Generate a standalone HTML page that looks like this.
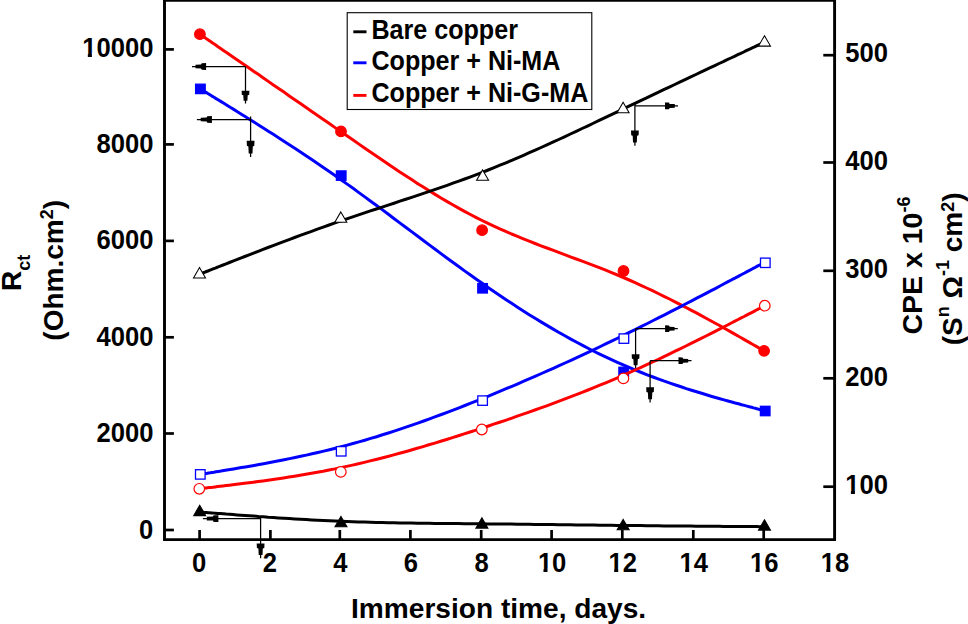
<!DOCTYPE html><html><head><meta charset="utf-8"><title>Chart</title><style>
html,body{margin:0;padding:0;background:#fff;}
svg{display:block;font-family:"Liberation Sans",sans-serif;font-weight:bold;}
</style></head><body>
<svg width="968" height="624" viewBox="0 0 968 624">
<rect x="0" y="0" width="968" height="624" fill="#fff"/>
<path d="M199.6,512.0 L199.6,512.0 L199.6,512.0 L199.6,512.0 L199.7,512.0 L199.8,512.0 L200.0,512.0 L200.2,512.0 L200.5,512.1 L200.8,512.1 L201.3,512.1 L201.9,512.2 L202.5,512.2 L203.4,512.3 L204.3,512.4 L205.4,512.4 L206.6,512.5 L208.0,512.7 L209.6,512.8 L211.3,512.9 L213.3,513.1 L215.4,513.2 L217.8,513.4 L220.4,513.6 L223.2,513.8 L226.3,514.1 L229.6,514.3 L233.1,514.6 L236.9,514.9 L240.8,515.2 L245.0,515.5 L249.3,515.8 L253.8,516.1 L258.5,516.5 L263.3,516.8 L268.2,517.2 L273.3,517.5 L278.5,517.9 L283.9,518.2 L289.3,518.5 L294.8,518.9 L300.4,519.2 L306.1,519.5 L311.8,519.9 L317.6,520.2 L323.4,520.5 L329.3,520.7 L335.2,521.0 L341.0,521.3 L346.9,521.5 L352.8,521.7 L358.7,521.9 L364.5,522.1 L370.4,522.3 L376.3,522.4 L382.2,522.6 L388.0,522.7 L393.9,522.8 L399.8,522.9 L405.6,523.0 L411.5,523.1 L417.4,523.2 L423.2,523.3 L429.1,523.3 L435.0,523.4 L440.8,523.5 L446.7,523.5 L452.6,523.6 L458.4,523.6 L464.3,523.7 L470.2,523.7 L476.1,523.8 L481.9,523.8 L487.8,523.9 L493.7,523.9 L499.6,524.0 L505.4,524.1 L511.3,524.1 L517.2,524.2 L523.1,524.3 L529.0,524.3 L534.9,524.4 L540.7,524.5 L546.6,524.5 L552.5,524.6 L558.4,524.7 L564.3,524.8 L570.2,524.8 L576.1,524.9 L582.0,525.0 L587.8,525.0 L593.7,525.1 L599.6,525.2 L605.5,525.2 L611.4,525.3 L617.3,525.4 L623.2,525.4 L629.1,525.5 L634.9,525.6 L640.8,525.6 L646.6,525.7 L652.4,525.8 L658.1,525.8 L663.8,525.9 L669.4,525.9 L674.9,526.0 L680.4,526.0 L685.7,526.1 L690.9,526.1 L696.0,526.2 L700.9,526.2 L705.8,526.2 L710.4,526.3 L714.9,526.3 L719.2,526.3 L723.4,526.4 L727.3,526.4 L731.1,526.4 L734.6,526.5 L737.9,526.5 L740.9,526.5 L743.8,526.5 L746.4,526.6 L748.7,526.6 L750.9,526.6 L752.8,526.6 L754.6,526.6 L756.1,526.6 L757.5,526.6 L758.8,526.7 L759.8,526.7 L760.8,526.7 L761.6,526.7 L762.2,526.7 L762.8,526.7 L763.3,526.7 L763.6,526.7 L763.9,526.7 L764.1,526.7 L764.3,526.7 L764.4,526.7 L764.5,526.7 L764.5,526.7 L764.5,526.7 L764.5,526.7" fill="none" stroke="#000" stroke-width="3.0" stroke-linejoin="round"/>
<path d="M199.7,505.2 L205.7,515.6 L193.7,515.6 Z" fill="#000" stroke="#000" stroke-width="1.05" stroke-linejoin="miter"/>
<path d="M341.0,516.4 L347.0,526.8 L335.0,526.8 Z" fill="#000" stroke="#000" stroke-width="1.05" stroke-linejoin="miter"/>
<path d="M481.9,517.7 L487.9,528.1 L475.9,528.1 Z" fill="#000" stroke="#000" stroke-width="1.05" stroke-linejoin="miter"/>
<path d="M623.2,519.4 L629.2,529.8 L617.2,529.8 Z" fill="#000" stroke="#000" stroke-width="1.05" stroke-linejoin="miter"/>
<path d="M764.5,519.7 L770.5,530.1 L758.5,530.1 Z" fill="#000" stroke="#000" stroke-width="1.05" stroke-linejoin="miter"/>
<path d="M200.4,88.9 L200.4,88.9 L200.4,88.9 L200.4,88.9 L200.5,89.0 L200.6,89.0 L200.8,89.1 L201.0,89.3 L201.3,89.4 L201.6,89.7 L202.1,89.9 L202.7,90.3 L203.3,90.7 L204.1,91.2 L205.1,91.8 L206.1,92.4 L207.4,93.2 L208.7,94.0 L210.3,95.0 L212.0,96.1 L214.0,97.3 L216.1,98.6 L218.5,100.0 L221.1,101.6 L223.9,103.3 L226.9,105.2 L230.2,107.3 L233.7,109.4 L237.4,111.7 L241.4,114.2 L245.5,116.7 L249.8,119.4 L254.3,122.2 L258.9,125.2 L263.7,128.2 L268.7,131.4 L273.7,134.6 L278.9,137.9 L284.3,141.4 L289.7,144.9 L295.2,148.5 L300.8,152.2 L306.4,156.0 L312.1,159.8 L317.9,163.7 L323.7,167.7 L329.6,171.7 L335.4,175.8 L341.3,179.9 L347.2,184.1 L353.1,188.3 L358.9,192.6 L364.8,196.9 L370.7,201.2 L376.6,205.5 L382.5,209.9 L388.4,214.3 L394.2,218.7 L400.1,223.1 L406.0,227.5 L411.9,231.9 L417.8,236.3 L423.7,240.7 L429.6,245.1 L435.5,249.5 L441.3,253.9 L447.2,258.2 L453.1,262.5 L459.0,266.8 L464.9,271.1 L470.8,275.3 L476.7,279.5 L482.6,283.6 L488.4,287.7 L494.3,291.8 L500.2,295.7 L506.1,299.7 L512.0,303.6 L517.9,307.4 L523.7,311.2 L529.6,314.9 L535.5,318.5 L541.4,322.1 L547.3,325.6 L553.2,329.1 L559.0,332.5 L564.9,335.8 L570.8,339.1 L576.7,342.3 L582.6,345.4 L588.5,348.5 L594.3,351.5 L600.2,354.4 L606.1,357.2 L612.0,359.9 L617.9,362.6 L623.8,365.2 L629.7,367.7 L635.5,370.2 L641.4,372.5 L647.2,374.8 L653.0,377.0 L658.7,379.1 L664.4,381.2 L670.0,383.1 L675.5,385.0 L681.0,386.8 L686.3,388.6 L691.5,390.2 L696.6,391.8 L701.6,393.3 L706.4,394.8 L711.0,396.2 L715.5,397.5 L719.9,398.7 L724.0,399.9 L728.0,401.0 L731.7,402.0 L735.2,403.0 L738.5,403.8 L741.6,404.7 L744.4,405.4 L747.0,406.1 L749.4,406.8 L751.6,407.3 L753.5,407.9 L755.3,408.3 L756.8,408.7 L758.2,409.1 L759.4,409.5 L760.5,409.7 L761.5,410.0 L762.3,410.2 L762.9,410.4 L763.5,410.5 L764.0,410.7 L764.3,410.8 L764.6,410.8 L764.8,410.9 L765.0,410.9 L765.1,411.0 L765.2,411.0 L765.2,411.0 L765.2,411.0 L765.2,411.0" fill="none" stroke="#0000ff" stroke-width="3.0" stroke-linejoin="round"/>
<rect x="195.6" y="84.2" width="9.6" height="9.4" fill="#0000ff" stroke="#0000ff" stroke-width="1.3"/>
<rect x="336.4" y="170.9" width="9.6" height="9.4" fill="#0000ff" stroke="#0000ff" stroke-width="1.3"/>
<rect x="477.8" y="283.6" width="9.6" height="9.4" fill="#0000ff" stroke="#0000ff" stroke-width="1.3"/>
<rect x="618.9" y="367.2" width="9.6" height="9.4" fill="#0000ff" stroke="#0000ff" stroke-width="1.3"/>
<rect x="760.4" y="406.3" width="9.6" height="9.4" fill="#0000ff" stroke="#0000ff" stroke-width="1.3"/>
<path d="M199.9,34.2 L199.9,34.2 L199.9,34.2 L199.9,34.2 L200.0,34.3 L200.1,34.3 L200.3,34.5 L200.5,34.6 L200.8,34.8 L201.1,35.1 L201.6,35.4 L202.2,35.8 L202.8,36.2 L203.6,36.8 L204.6,37.4 L205.6,38.2 L206.9,39.0 L208.3,40.0 L209.8,41.0 L211.6,42.2 L213.5,43.6 L215.7,45.1 L218.0,46.7 L220.6,48.5 L223.4,50.4 L226.5,52.5 L229.8,54.8 L233.3,57.2 L237.0,59.8 L241.0,62.5 L245.1,65.3 L249.4,68.3 L253.9,71.4 L258.6,74.6 L263.4,77.9 L268.3,81.4 L273.4,84.9 L278.6,88.5 L283.9,92.1 L289.3,95.9 L294.8,99.7 L300.4,103.5 L306.1,107.5 L311.8,111.4 L317.6,115.4 L323.4,119.5 L329.3,123.5 L335.1,127.6 L341.0,131.7 L346.9,135.8 L352.8,139.8 L358.6,143.9 L364.5,148.0 L370.4,152.0 L376.3,156.1 L382.2,160.1 L388.0,164.1 L393.9,168.0 L399.8,171.9 L405.7,175.8 L411.6,179.6 L417.4,183.4 L423.3,187.1 L429.2,190.8 L435.1,194.4 L441.0,198.0 L446.8,201.4 L452.7,204.8 L458.6,208.1 L464.5,211.4 L470.4,214.5 L476.3,217.6 L482.1,220.5 L488.0,223.4 L493.9,226.2 L499.8,228.8 L505.7,231.4 L511.6,234.0 L517.5,236.4 L523.4,238.8 L529.2,241.2 L535.1,243.5 L541.0,245.8 L546.9,248.0 L552.8,250.2 L558.7,252.4 L564.6,254.6 L570.4,256.8 L576.3,259.0 L582.2,261.2 L588.1,263.4 L594.0,265.6 L599.9,267.9 L605.7,270.2 L611.6,272.6 L617.5,275.0 L623.4,277.5 L629.2,280.0 L635.1,282.6 L640.9,285.3 L646.7,288.0 L652.5,290.7 L658.2,293.5 L663.9,296.3 L669.5,299.0 L675.0,301.8 L680.4,304.6 L685.7,307.3 L690.9,310.1 L695.9,312.7 L700.9,315.4 L705.6,318.0 L710.3,320.5 L714.8,323.0 L719.1,325.3 L723.2,327.6 L727.1,329.8 L730.8,331.9 L734.3,333.9 L737.6,335.8 L740.7,337.5 L743.5,339.1 L746.1,340.6 L748.4,341.9 L750.5,343.1 L752.5,344.2 L754.2,345.2 L755.8,346.1 L757.2,346.9 L758.4,347.6 L759.4,348.2 L760.4,348.7 L761.2,349.1 L761.8,349.5 L762.4,349.8 L762.9,350.1 L763.2,350.3 L763.5,350.5 L763.7,350.6 L763.9,350.7 L764.0,350.7 L764.1,350.8 L764.1,350.8 L764.1,350.8 L764.1,350.8" fill="none" stroke="#ff0000" stroke-width="3.0" stroke-linejoin="round"/>
<circle cx="199.9" cy="34.2" r="5.3" fill="#ff0000" stroke="#ff0000" stroke-width="1.2"/>
<circle cx="341.0" cy="131.4" r="5.3" fill="#ff0000" stroke="#ff0000" stroke-width="1.2"/>
<circle cx="482.1" cy="230.2" r="5.3" fill="#ff0000" stroke="#ff0000" stroke-width="1.2"/>
<circle cx="623.5" cy="271.0" r="5.3" fill="#ff0000" stroke="#ff0000" stroke-width="1.2"/>
<circle cx="764.1" cy="350.8" r="5.3" fill="#ff0000" stroke="#ff0000" stroke-width="1.2"/>
<path d="M199.5,274.3 L199.5,274.3 L199.5,274.3 L199.5,274.3 L199.6,274.3 L199.7,274.2 L199.9,274.2 L200.1,274.1 L200.4,274.0 L200.7,273.8 L201.2,273.6 L201.8,273.4 L202.4,273.1 L203.2,272.8 L204.2,272.5 L205.2,272.0 L206.5,271.5 L207.9,271.0 L209.4,270.4 L211.2,269.7 L213.1,268.9 L215.3,268.1 L217.6,267.1 L220.2,266.1 L223.1,265.0 L226.1,263.8 L229.4,262.5 L232.9,261.1 L236.7,259.7 L240.6,258.1 L244.8,256.5 L249.1,254.8 L253.6,253.1 L258.2,251.3 L263.1,249.4 L268.0,247.5 L273.1,245.6 L278.3,243.6 L283.6,241.6 L289.1,239.6 L294.6,237.5 L300.2,235.4 L305.9,233.3 L311.6,231.3 L317.4,229.2 L323.2,227.1 L329.1,225.0 L335.0,222.9 L340.9,220.9 L346.8,218.9 L352.7,216.9 L358.6,214.9 L364.5,212.9 L370.4,210.9 L376.3,209.0 L382.2,207.1 L388.1,205.1 L394.0,203.2 L399.9,201.2 L405.8,199.3 L411.7,197.3 L417.6,195.4 L423.5,193.4 L429.4,191.4 L435.3,189.4 L441.2,187.4 L447.1,185.3 L452.9,183.2 L458.8,181.1 L464.7,179.0 L470.6,176.8 L476.5,174.6 L482.4,172.3 L488.2,170.0 L494.1,167.6 L500.0,165.2 L505.9,162.8 L511.7,160.3 L517.6,157.8 L523.5,155.3 L529.3,152.7 L535.2,150.1 L541.1,147.5 L546.9,144.9 L552.8,142.2 L558.7,139.5 L564.5,136.8 L570.4,134.0 L576.2,131.3 L582.1,128.5 L588.0,125.8 L593.8,123.0 L599.7,120.2 L605.6,117.4 L611.4,114.6 L617.3,111.8 L623.2,109.0 L629.0,106.2 L634.9,103.4 L640.7,100.6 L646.6,97.9 L652.3,95.1 L658.1,92.4 L663.7,89.7 L669.3,87.1 L674.8,84.5 L680.2,81.9 L685.6,79.4 L690.8,76.9 L695.9,74.5 L700.8,72.2 L705.6,69.9 L710.3,67.7 L714.8,65.6 L719.1,63.5 L723.3,61.6 L727.2,59.7 L730.9,58.0 L734.5,56.3 L737.8,54.7 L740.8,53.3 L743.7,52.0 L746.2,50.7 L748.6,49.6 L750.8,48.6 L752.7,47.7 L754.5,46.9 L756.0,46.1 L757.4,45.5 L758.6,44.9 L759.7,44.4 L760.7,44.0 L761.5,43.6 L762.1,43.3 L762.7,43.0 L763.2,42.8 L763.5,42.6 L763.8,42.5 L764.0,42.4 L764.2,42.3 L764.3,42.3 L764.4,42.2 L764.4,42.2 L764.4,42.2 L764.4,42.2" fill="none" stroke="#000" stroke-width="3.0" stroke-linejoin="round"/>
<path d="M199.5,267.6 L205.5,278.0 L193.5,278.0 Z" fill="#fff" stroke="#000" stroke-width="1.05" stroke-linejoin="miter"/>
<path d="M340.8,211.9 L346.8,222.3 L334.8,222.3 Z" fill="#fff" stroke="#000" stroke-width="1.05" stroke-linejoin="miter"/>
<path d="M482.6,169.9 L488.6,180.3 L476.6,180.3 Z" fill="#fff" stroke="#000" stroke-width="1.05" stroke-linejoin="miter"/>
<path d="M623.1,102.2 L629.1,112.7 L617.1,112.7 Z" fill="#fff" stroke="#000" stroke-width="1.05" stroke-linejoin="miter"/>
<path d="M764.5,35.7 L770.5,46.1 L758.5,46.1 Z" fill="#fff" stroke="#000" stroke-width="1.05" stroke-linejoin="miter"/>
<path d="M200.3,474.4 L200.3,474.4 L200.3,474.4 L200.3,474.4 L200.4,474.4 L200.5,474.4 L200.7,474.3 L200.9,474.3 L201.2,474.3 L201.5,474.2 L202.0,474.1 L202.6,474.0 L203.2,473.9 L204.0,473.8 L205.0,473.6 L206.0,473.5 L207.3,473.3 L208.6,473.0 L210.2,472.8 L212.0,472.5 L213.9,472.2 L216.0,471.8 L218.4,471.4 L221.0,471.0 L223.8,470.5 L226.8,470.0 L230.1,469.5 L233.6,468.9 L237.4,468.3 L241.3,467.6 L245.4,466.9 L249.7,466.2 L254.2,465.4 L258.9,464.6 L263.7,463.7 L268.6,462.8 L273.7,461.8 L278.9,460.8 L284.2,459.7 L289.6,458.6 L295.1,457.5 L300.7,456.3 L306.4,455.1 L312.1,453.8 L317.9,452.5 L323.7,451.1 L329.5,449.7 L335.4,448.2 L341.3,446.7 L347.2,445.1 L353.0,443.5 L358.9,441.9 L364.8,440.2 L370.7,438.4 L376.6,436.7 L382.5,434.8 L388.4,433.0 L394.2,431.1 L400.1,429.1 L406.0,427.1 L411.9,425.1 L417.8,423.1 L423.7,421.0 L429.6,418.8 L435.5,416.7 L441.4,414.5 L447.2,412.3 L453.1,410.1 L459.0,407.8 L464.9,405.5 L470.8,403.2 L476.7,400.8 L482.6,398.4 L488.5,396.1 L494.4,393.6 L500.3,391.2 L506.1,388.7 L512.0,386.3 L517.9,383.8 L523.8,381.2 L529.7,378.7 L535.6,376.1 L541.5,373.5 L547.4,370.9 L553.3,368.3 L559.1,365.6 L565.0,363.0 L570.9,360.3 L576.8,357.6 L582.7,354.8 L588.6,352.1 L594.5,349.3 L600.4,346.5 L606.2,343.7 L612.1,340.8 L618.0,338.0 L623.9,335.1 L629.8,332.2 L635.7,329.3 L641.5,326.4 L647.4,323.5 L653.2,320.5 L658.9,317.6 L664.6,314.8 L670.2,311.9 L675.7,309.1 L681.1,306.3 L686.4,303.5 L691.7,300.8 L696.7,298.2 L701.7,295.6 L706.5,293.1 L711.2,290.6 L715.7,288.3 L720.0,286.0 L724.1,283.8 L728.1,281.7 L731.8,279.7 L735.4,277.9 L738.7,276.1 L741.7,274.5 L744.6,273.0 L747.1,271.6 L749.5,270.4 L751.7,269.2 L753.6,268.2 L755.4,267.3 L756.9,266.4 L758.3,265.7 L759.5,265.1 L760.6,264.5 L761.6,264.0 L762.4,263.6 L763.0,263.2 L763.6,262.9 L764.1,262.7 L764.4,262.5 L764.7,262.3 L764.9,262.2 L765.1,262.1 L765.2,262.1 L765.3,262.0 L765.3,262.0 L765.3,262.0 L765.3,262.0" fill="none" stroke="#0000ff" stroke-width="3.0" stroke-linejoin="round"/>
<rect x="195.5" y="469.7" width="9.6" height="9.4" fill="#fff" stroke="#0000ff" stroke-width="1.3"/>
<rect x="336.4" y="446.6" width="9.6" height="9.4" fill="#fff" stroke="#0000ff" stroke-width="1.3"/>
<rect x="477.8" y="395.9" width="9.6" height="9.4" fill="#fff" stroke="#0000ff" stroke-width="1.3"/>
<rect x="619.1" y="333.9" width="9.6" height="9.4" fill="#fff" stroke="#0000ff" stroke-width="1.3"/>
<rect x="760.5" y="258.1" width="9.6" height="9.4" fill="#fff" stroke="#0000ff" stroke-width="1.3"/>
<path d="M199.3,488.8 L199.3,488.8 L199.3,488.8 L199.3,488.8 L199.4,488.8 L199.5,488.8 L199.7,488.8 L199.9,488.7 L200.2,488.7 L200.5,488.7 L201.0,488.6 L201.6,488.5 L202.2,488.4 L203.0,488.4 L204.0,488.2 L205.1,488.1 L206.3,488.0 L207.7,487.8 L209.2,487.6 L211.0,487.4 L212.9,487.2 L215.1,486.9 L217.5,486.6 L220.1,486.3 L222.9,486.0 L226.0,485.6 L229.3,485.2 L232.8,484.8 L236.5,484.3 L240.5,483.8 L244.6,483.3 L249.0,482.8 L253.5,482.2 L258.1,481.6 L262.9,480.9 L267.9,480.2 L273.0,479.5 L278.2,478.7 L283.5,477.9 L289.0,477.1 L294.5,476.2 L300.1,475.2 L305.8,474.3 L311.5,473.3 L317.3,472.2 L323.1,471.2 L329.0,470.0 L334.8,468.9 L340.7,467.6 L346.6,466.4 L352.5,465.1 L358.4,463.8 L364.3,462.4 L370.1,460.9 L376.0,459.5 L381.9,458.0 L387.8,456.5 L393.7,454.9 L399.5,453.3 L405.4,451.7 L411.3,450.0 L417.2,448.3 L423.1,446.6 L428.9,444.8 L434.8,443.1 L440.7,441.3 L446.6,439.5 L452.5,437.6 L458.4,435.8 L464.2,433.9 L470.1,432.0 L476.0,430.1 L481.9,428.1 L487.8,426.2 L493.7,424.2 L499.6,422.3 L505.5,420.3 L511.3,418.3 L517.2,416.2 L523.1,414.2 L529.0,412.1 L534.9,410.0 L540.8,407.9 L546.7,405.8 L552.6,403.6 L558.5,401.4 L564.4,399.2 L570.3,396.9 L576.2,394.7 L582.1,392.3 L588.0,390.0 L593.9,387.6 L599.8,385.2 L605.7,382.8 L611.6,380.3 L617.5,377.8 L623.4,375.2 L629.3,372.6 L635.1,370.0 L641.0,367.3 L646.8,364.6 L652.6,362.0 L658.4,359.3 L664.0,356.6 L669.7,353.9 L675.2,351.2 L680.6,348.6 L685.9,346.0 L691.1,343.4 L696.2,340.9 L701.2,338.4 L706.0,336.0 L710.7,333.6 L715.2,331.3 L719.5,329.1 L723.6,327.0 L727.6,325.0 L731.3,323.0 L734.9,321.2 L738.2,319.5 L741.2,317.9 L744.1,316.5 L746.6,315.1 L749.0,313.9 L751.2,312.8 L753.1,311.8 L754.9,310.9 L756.4,310.0 L757.8,309.3 L759.0,308.7 L760.1,308.1 L761.1,307.6 L761.9,307.2 L762.5,306.9 L763.1,306.6 L763.6,306.3 L763.9,306.2 L764.2,306.0 L764.4,305.9 L764.6,305.8 L764.7,305.8 L764.8,305.7 L764.8,305.7 L764.8,305.7 L764.8,305.7" fill="none" stroke="#ff0000" stroke-width="3.0" stroke-linejoin="round"/>
<circle cx="199.3" cy="488.8" r="5.3" fill="#fff" stroke="#ff0000" stroke-width="1.2"/>
<circle cx="340.8" cy="471.9" r="5.3" fill="#fff" stroke="#ff0000" stroke-width="1.2"/>
<circle cx="481.8" cy="429.5" r="5.3" fill="#fff" stroke="#ff0000" stroke-width="1.2"/>
<circle cx="623.4" cy="378.4" r="5.3" fill="#fff" stroke="#ff0000" stroke-width="1.2"/>
<circle cx="764.8" cy="305.7" r="5.3" fill="#fff" stroke="#ff0000" stroke-width="1.2"/>
<path d="M192.0,66.5 L245.5,66.5 M245.5,66.5 L245.5,103.5" fill="none" stroke="#000" stroke-width="1.25"/><path d="M206.1,63.1 L201.7,63.2 L201.1,64.5 L195.5,64.7 L195.5,68.3 L201.1,68.5 L201.7,69.8 L206.1,69.9 Z" fill="#000"/><path d="M241.6,90.7 L241.8,94.7 L243.3,95.3 L243.6,100.7 L247.4,100.7 L247.7,95.3 L249.2,94.7 L249.4,90.7 Z" fill="#000"/>
<path d="M196.9,119.5 L250.6,119.5 M250.6,116.5 L250.6,157.0" fill="none" stroke="#000" stroke-width="1.25"/><path d="M211.9,116.1 L207.2,116.2 L206.7,117.5 L200.7,117.7 L200.7,121.3 L206.7,121.5 L207.2,122.8 L211.9,122.9 Z" fill="#000"/><path d="M246.7,140.7 L246.9,145.8 L248.4,146.4 L248.7,153.4 L252.5,153.4 L252.8,146.4 L254.3,145.8 L254.5,140.7 Z" fill="#000"/>
<path d="M202.9,518.6 L260.6,518.6 M260.6,516.0 L260.6,558.3" fill="none" stroke="#000" stroke-width="1.25"/><path d="M218.4,515.2 L213.6,515.3 L213.0,516.6 L206.8,516.8 L206.8,520.4 L213.0,520.6 L213.6,521.9 L218.4,522.0 Z" fill="#000"/><path d="M256.7,543.4 L256.9,548.0 L258.4,548.6 L258.7,555.0 L262.5,555.0 L262.8,548.6 L264.3,548.0 L264.5,543.4 Z" fill="#000"/>
<path d="M678.0,105.9 L634.9,105.9 M634.9,104.0 L634.9,145.8" fill="none" stroke="#000" stroke-width="1.25"/><path d="M665.0,102.5 L669.0,102.6 L669.6,103.9 L674.8,104.1 L674.8,107.7 L669.6,107.9 L669.0,109.2 L665.0,109.3 Z" fill="#000"/><path d="M631.0,130.4 L631.2,135.2 L632.7,135.8 L633.0,142.4 L636.8,142.4 L637.1,135.8 L638.6,135.2 L638.8,130.4 Z" fill="#000"/>
<path d="M677.8,328.7 L635.6,328.7 M635.6,328.7 L635.6,368.3" fill="none" stroke="#000" stroke-width="1.25"/><path d="M665.1,325.3 L669.0,325.4 L669.6,326.7 L674.6,326.9 L674.6,330.5 L669.6,330.7 L669.0,332.0 L665.1,332.1 Z" fill="#000"/><path d="M631.7,354.3 L631.9,358.6 L633.4,359.2 L633.7,365.2 L637.5,365.2 L637.8,359.2 L639.3,358.6 L639.5,354.3 Z" fill="#000"/>
<path d="M691.5,360.7 L650.1,360.7 M650.1,360.7 L650.1,402.6" fill="none" stroke="#000" stroke-width="1.25"/><path d="M678.5,357.3 L682.5,357.4 L683.1,358.7 L688.2,358.9 L688.2,362.5 L683.1,362.7 L682.5,364.0 L678.5,364.1 Z" fill="#000"/><path d="M646.2,387.3 L646.4,392.0 L647.9,392.6 L648.2,399.2 L652.0,399.2 L652.3,392.6 L653.8,392.0 L654.0,387.3 Z" fill="#000"/>
<g stroke="#000" stroke-width="2.9" fill="none" stroke-linecap="butt">
<path d="M164.5,0.3 L834.6,0.3 L834.6,539.6 L164.5,539.6 Z" stroke-linejoin="miter"/>
</g>
<g stroke="#000" stroke-width="2.7" fill="none">
<line x1="164.5" y1="530.0" x2="173.9" y2="530.0"/>
<line x1="164.5" y1="433.5" x2="173.9" y2="433.5"/>
<line x1="164.5" y1="337.3" x2="173.9" y2="337.3"/>
<line x1="164.5" y1="240.9" x2="173.9" y2="240.9"/>
<line x1="164.5" y1="144.4" x2="173.9" y2="144.4"/>
<line x1="164.5" y1="49.4" x2="173.9" y2="49.4"/>
<line x1="834.6" y1="486.7" x2="823.3" y2="486.7"/>
<line x1="834.6" y1="378.3" x2="823.3" y2="378.3"/>
<line x1="834.6" y1="270.8" x2="823.3" y2="270.8"/>
<line x1="834.6" y1="162.5" x2="823.3" y2="162.5"/>
<line x1="834.6" y1="55.2" x2="823.3" y2="55.2"/>
<line x1="199.6" y1="539.6" x2="199.6" y2="530.0"/>
<line x1="270.4" y1="539.6" x2="270.4" y2="530.0"/>
<line x1="339.8" y1="539.6" x2="339.8" y2="530.0"/>
<line x1="410.4" y1="539.6" x2="410.4" y2="530.0"/>
<line x1="481.2" y1="539.6" x2="481.2" y2="530.0"/>
<line x1="551.6" y1="539.6" x2="551.6" y2="530.0"/>
<line x1="622.3" y1="539.6" x2="622.3" y2="530.0"/>
<line x1="693.3" y1="539.6" x2="693.3" y2="530.0"/>
<line x1="763.7" y1="539.6" x2="763.7" y2="530.0"/>
</g>
<text transform="translate(153.3,538.6) scale(1,1.06)" font-size="25.6" text-anchor="end">0</text>
<text transform="translate(153.4,441.7) scale(1,1.06)" font-size="25.6" text-anchor="end">2000</text>
<text transform="translate(153.4,345.5) scale(1,1.06)" font-size="25.6" text-anchor="end">4000</text>
<text transform="translate(153.4,249.1) scale(1,1.06)" font-size="25.6" text-anchor="end">6000</text>
<text transform="translate(153.4,152.6) scale(1,1.06)" font-size="25.6" text-anchor="end">8000</text>
<text transform="translate(153.4,56.6) scale(1,1.06)" font-size="25.6" text-anchor="end">10000</text><rect x="82.74" y="53.56" width="5.09" height="3.64" fill="#fff"/><rect x="91.89" y="53.56" width="4.74" height="3.64" fill="#fff"/>
<text transform="translate(845.3,493.9) scale(1,1.06)" font-size="25.6" text-anchor="start">100</text><rect x="845.81" y="490.86" width="5.09" height="3.64" fill="#fff"/><rect x="854.96" y="490.86" width="4.74" height="3.64" fill="#fff"/>
<text transform="translate(845.3,385.5) scale(1,1.06)" font-size="25.6" text-anchor="start">200</text>
<text transform="translate(845.3,277.9) scale(1,1.06)" font-size="25.6" text-anchor="start">300</text>
<text transform="translate(845.3,169.7) scale(1,1.06)" font-size="25.6" text-anchor="start">400</text>
<text transform="translate(845.3,62.4) scale(1,1.06)" font-size="25.6" text-anchor="start">500</text>
<text transform="translate(199.1,571.8) scale(1,1.06)" font-size="25.6" text-anchor="middle">0</text>
<text transform="translate(269.9,571.8) scale(1,1.06)" font-size="25.6" text-anchor="middle">2</text>
<text transform="translate(340.3,571.8) scale(1,1.06)" font-size="25.6" text-anchor="middle">4</text>
<text transform="translate(410.9,571.8) scale(1,1.06)" font-size="25.6" text-anchor="middle">6</text>
<text transform="translate(481.7,571.8) scale(1,1.06)" font-size="25.6" text-anchor="middle">8</text>
<text transform="translate(552.1,571.8) scale(1,1.06)" font-size="25.6" text-anchor="middle">10</text><rect x="538.38" y="568.76" width="5.09" height="3.64" fill="#fff"/><rect x="547.52" y="568.76" width="4.74" height="3.64" fill="#fff"/>
<text transform="translate(622.8,571.8) scale(1,1.06)" font-size="25.6" text-anchor="middle">12</text><rect x="609.08" y="568.76" width="5.09" height="3.64" fill="#fff"/><rect x="618.22" y="568.76" width="4.74" height="3.64" fill="#fff"/>
<text transform="translate(693.8,571.8) scale(1,1.06)" font-size="25.6" text-anchor="middle">14</text><rect x="680.08" y="568.76" width="5.09" height="3.64" fill="#fff"/><rect x="689.22" y="568.76" width="4.74" height="3.64" fill="#fff"/>
<text transform="translate(764.2,571.8) scale(1,1.06)" font-size="25.6" text-anchor="middle">16</text><rect x="750.48" y="568.76" width="5.09" height="3.64" fill="#fff"/><rect x="759.62" y="568.76" width="4.74" height="3.64" fill="#fff"/>
<text transform="translate(834.9,571.8) scale(1,1.06)" font-size="25.6" text-anchor="middle">18</text><rect x="821.18" y="568.76" width="5.09" height="3.64" fill="#fff"/><rect x="830.32" y="568.76" width="4.74" height="3.64" fill="#fff"/>
<text x="498.6" y="618.2" font-size="28.1" text-anchor="middle">Immersion time, days.</text>
<g font-size="28">
<text transform="translate(21.2,291) rotate(-90)">R<tspan font-size="18" dy="8.3">ct</tspan></text>
<text transform="translate(62.7,270.3) rotate(-90)" text-anchor="middle">(Ohm.cm<tspan font-size="18" dy="-10">2</tspan><tspan dy="10">)</tspan></text>
<text transform="translate(921.8,265.6) rotate(-90)" text-anchor="middle" font-size="28.5">CPE x 10<tspan font-size="18" dy="-11.6">-6</tspan></text>
<text transform="translate(962,268.9) rotate(-90)" text-anchor="middle">(S<tspan font-size="18" dy="-13">n</tspan><tspan dy="13"> Ω</tspan><tspan font-size="18" dy="-13">-1</tspan><tspan dy="13"> cm</tspan><tspan font-size="18" dy="-7.8">2</tspan><tspan dy="7.8">)</tspan></text>
</g>
<rect x="347.2" y="12.7" width="244.6" height="96.8" fill="#fff" stroke="#000" stroke-width="1.1"/>
<line x1="353.3" y1="31.8" x2="366.5" y2="31.8" stroke="#000" stroke-width="2.9"/>
<text transform="translate(371.5,38.8) scale(1,1.07)" font-size="25.1" text-anchor="start">Bare copper</text>
<line x1="353.3" y1="62.8" x2="366.5" y2="62.8" stroke="#0000ff" stroke-width="2.9"/>
<text transform="translate(371.5,70.0) scale(1,1.07)" font-size="25.1" text-anchor="start">Copper + Ni-MA</text>
<line x1="353.3" y1="95.4" x2="366.5" y2="95.4" stroke="#ff0000" stroke-width="2.9"/>
<text transform="translate(371.5,101.9) scale(1,1.07)" font-size="25.1" text-anchor="start">Copper + Ni-G-MA</text>
</svg></body></html>
